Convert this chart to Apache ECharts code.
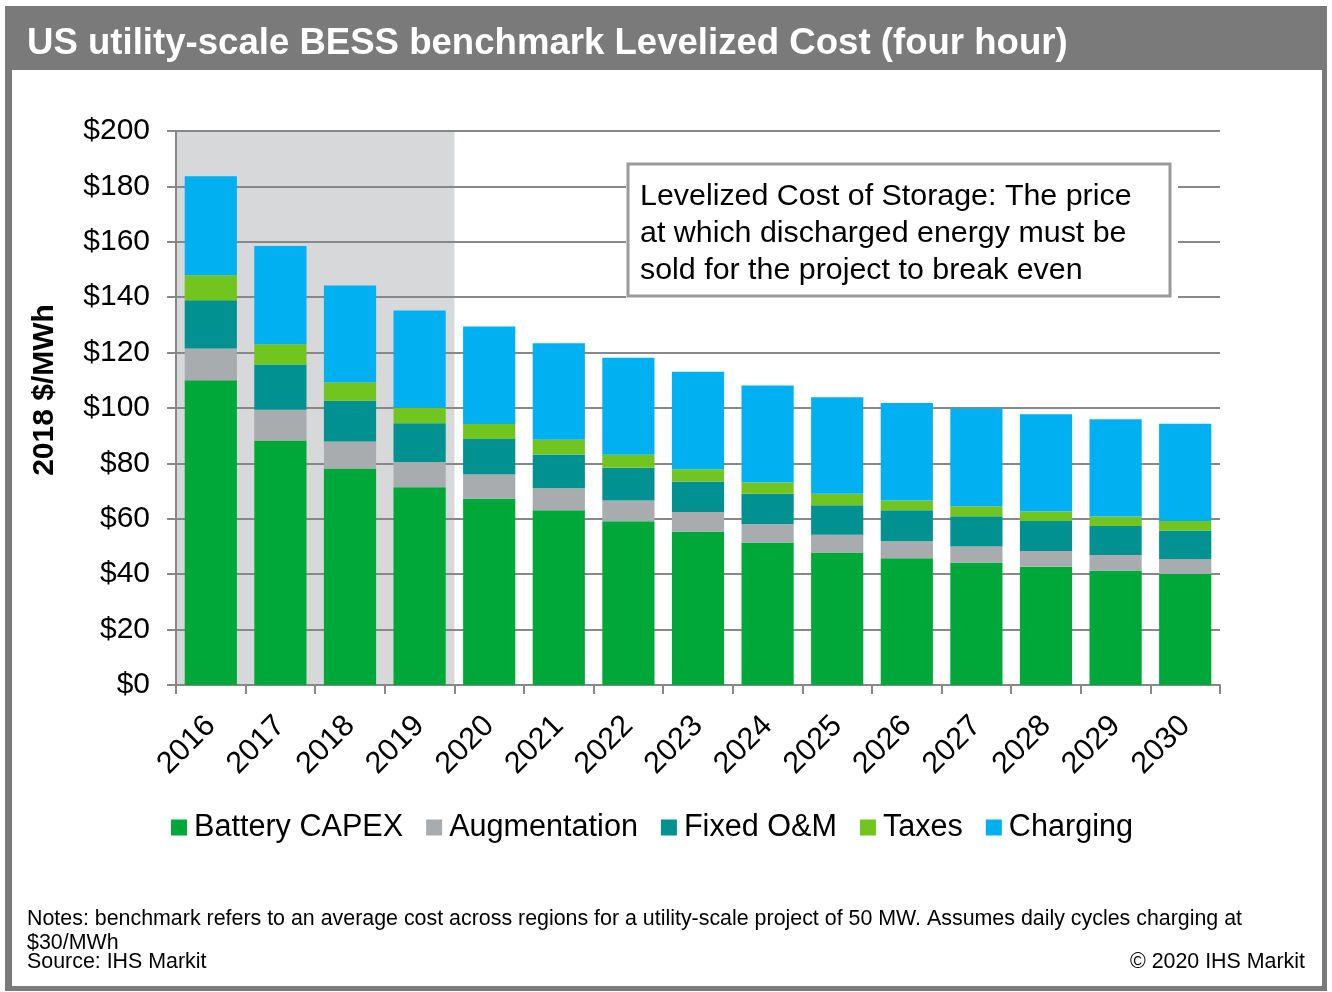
<!DOCTYPE html>
<html>
<head>
<meta charset="utf-8">
<title>US utility-scale BESS benchmark Levelized Cost</title>
<script src="https://cdn.jsdelivr.net/npm/echarts@6/dist/echarts.min.js"></script>
<style>
  html, body { margin: 0; padding: 0; background: #fff; }
  #main { width: 1332px; height: 992px; }
</style>
</head>
<body>
<div id="main"></div>
<script>
// 数据
var years = ['2016', '2017', '2018', '2019', '2020', '2021', '2022', '2023',
             '2024', '2025', '2026', '2027', '2028', '2029', '2030'];
var batteryCapex = [110.0, 88.3, 78.2, 71.4, 67.3, 63.1, 59.1, 55.4, 51.4, 47.8, 45.8, 44.2, 42.7, 41.3, 40.1];
var augmentation = [11.5, 11.1, 9.7, 9.1, 8.7, 7.9, 7.5, 7.1, 6.7, 6.4, 6.1, 5.8, 5.7, 5.6, 5.3];
var fixedOM      = [17.4, 16.3, 14.7, 14.0, 12.8, 12.2, 11.8, 11.0, 10.9, 10.7, 11.2, 10.9, 10.8, 10.5, 10.4];
var taxes        = [9.0, 7.3, 6.6, 5.6, 5.4, 5.3, 4.7, 4.4, 4.1, 4.1, 3.5, 3.6, 3.4, 3.4, 3.4];
var charging     = [35.8, 35.5, 35.0, 35.1, 35.2, 34.9, 35.0, 35.2, 35.0, 34.9, 35.2, 35.3, 35.1, 35.1, 35.1];
var yTicks = [0, 20, 40, 60, 80, 100, 120, 140, 160, 180, 200];
var lastHistoricYear = 2019;

var FONT = '"Liberation Sans", Arial, sans-serif';

function chart() {
  var myChart = echarts.init(document.getElementById('main'));

  // 历史年份的灰色背景带
  var bandColors = years.map(function (y) {
    return +y <= lastHistoricYear ? '#d7d8da' : 'rgba(0,0,0,0)';
  });

  function barSeries(name, data, color) {
    return {
      name: name,
      type: 'bar',
      stack: 'cost',
      barWidth: '75%',
      itemStyle: { color: color },
      data: data
    };
  }

  var option = {
    backgroundColor: '#ffffff',
    animation: false,
    title: {
      text: 'US utility-scale BESS benchmark Levelized Cost (four hour)',
      left: 22,
      top: 20,
      textStyle: { color: '#ffffff', fontSize: 36.6, fontWeight: 'bold', fontFamily: FONT }
    },
    legend: {
      left: 166,
      top: 807,
      icon: 'rect',
      itemWidth: 16,
      itemHeight: 16,
      itemGap: 23,
      textStyle: { fontSize: 30.6, color: '#000', fontFamily: FONT, padding: [0, 0, 0, 2] },
      data: ['Battery CAPEX', 'Augmentation', 'Fixed O&M', 'Taxes', 'Charging']
    },
    grid: { left: 176, right: 112, top: 131, bottom: 307, containLabel: false },
    xAxis: {
      type: 'category',
      data: years,
      z: 0,
      axisLine: { lineStyle: { color: '#888', width: 2 } },
      axisTick: { show: true, length: 9, interval: 0, lineStyle: { color: '#888', width: 2 } },
      axisLabel: {
        rotate: 45, margin: 36, interval: 0,
        fontSize: 30.5, color: '#000', fontFamily: FONT
      },
      splitArea: { show: true, interval: 0, areaStyle: { color: bandColors } }
    },
    yAxis: {
      type: 'value',
      min: 0, max: 200, interval: 20,
      z: 1,
      name: '2018 $/MWh',
      nameLocation: 'middle',
      nameRotate: 90,
      nameGap: 116,
      nameTextStyle: {
        fontSize: 30, fontWeight: 'bold', color: '#000', fontFamily: FONT,
        padding: [0, 0, 0, 36]
      },
      axisLine: { show: true, lineStyle: { color: '#888', width: 2 } },
      axisTick: { show: true, length: 9, lineStyle: { color: '#888', width: 2 } },
      axisLabel: {
        margin: 26, fontSize: 30, color: '#000', fontFamily: FONT,
        formatter: function (v) { return yTicks.indexOf(v) >= 0 ? '$' + v : ''; }
      },
      splitLine: { show: true, lineStyle: { color: '#888', width: 2 } }
    },
    series: [
      barSeries('Battery CAPEX', batteryCapex, '#00a83a'),
      barSeries('Augmentation', augmentation, '#a9acaf'),
      barSeries('Fixed O&M', fixedOM, '#009190'),
      barSeries('Taxes', taxes, '#72c51e'),
      barSeries('Charging', charging, '#00b0f0')
    ],
    graphic: [
      // 外框和标题栏
      { type: 'rect', z: -1, silent: true,
        shape: { x: 5, y: 6, width: 1322, height: 985 },
        style: { fill: '#7a7a7a' } },
      { type: 'rect', z: -1, silent: true,
        shape: { x: 12, y: 70, width: 1310, height: 916 },
        style: { fill: '#ffffff' } },
      // 说明文本框
      { type: 'rect', z: 10, silent: true,
        shape: { x: 626, y: 162, width: 552, height: 138 },
        style: { fill: '#ffffff' } },
      { type: 'rect', z: 11, silent: true,
        shape: { x: 628, y: 164, width: 542, height: 132 },
        style: { fill: '#ffffff', stroke: '#9a9a9a', lineWidth: 3 } },
      { type: 'text', z: 12, silent: true,
        style: {
          x: 640, y: 178,
          text: 'Levelized Cost of Storage: The price\nat which discharged energy must be\nsold for the project to break even',
          font: '30.4px ' + FONT, lineHeight: 37, fill: '#000',
          verticalAlign: 'top', align: 'left'
        } },
      // 注释
      { type: 'text', z: 12, silent: true,
        style: {
          x: 27, y: 907,
          text: 'Notes: benchmark refers to an average cost across regions for a utility-scale project of 50 MW. Assumes daily cycles charging at\n$30/MWh',
          font: '21.4px ' + FONT, lineHeight: 24, fill: '#000',
          verticalAlign: 'top', align: 'left'
        } },
      { type: 'text', z: 12, silent: true,
        style: {
          x: 27, y: 951, text: 'Source: IHS Markit',
          font: '21.4px ' + FONT, lineHeight: 23, fill: '#000',
          verticalAlign: 'top', align: 'left'
        } },
      { type: 'text', z: 12, silent: true,
        style: {
          x: 1305, y: 951, text: '\u00a9 2020 IHS Markit',
          font: '21.4px ' + FONT, lineHeight: 23, fill: '#000',
          verticalAlign: 'top', align: 'right'
        } }
    ]
  };

  myChart.setOption(option);
}

window.onload = function () {
  chart();
};
</script>
</body>
</html>
